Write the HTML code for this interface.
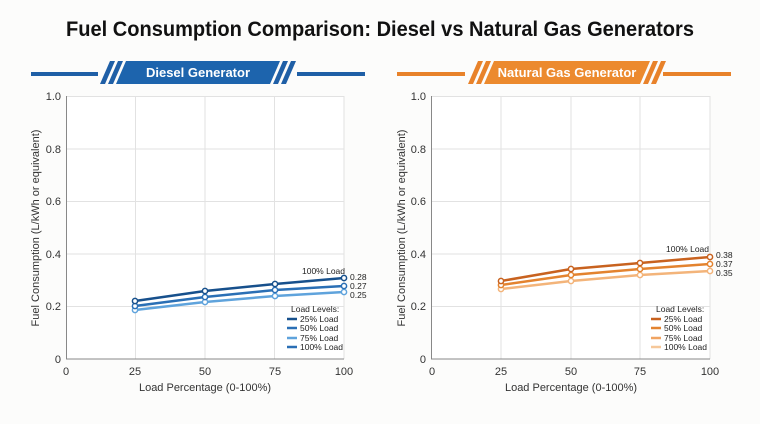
<!DOCTYPE html>
<html><head><meta charset="utf-8"><style>
html,body{margin:0;padding:0;background:#fcfcfb;}
svg{display:block;font-family:"Liberation Sans",sans-serif;}
</style></head><body>
<svg width="760" height="424" viewBox="0 0 760 424" xmlns="http://www.w3.org/2000/svg">
<rect width="760" height="424" fill="#fcfcfb"/>
<text x="380" y="36" text-anchor="middle" font-size="21" font-weight="bold" fill="#111" textLength="628" lengthAdjust="spacingAndGlyphs">Fuel Consumption Comparison: Diesel vs Natural Gas Generators</text>

<!-- Diesel banner -->
<g fill="#1f5fa6">
<rect x="31" y="72" width="67" height="4"/>
<rect x="297" y="72" width="68" height="4"/>
<polygon points="110,61 115,61 105,84 100,84"/>
<polygon points="118,61 123,61 113,84 108,84"/>
<polygon points="126,61 280,61 270,84 116,84" fill="#1d64ad"/>
<polygon points="283,61 288,61 278,84 273,84"/>
<polygon points="291,61 296,61 286,84 281,84"/>
</g>
<text x="198" y="77" text-anchor="middle" font-size="13" font-weight="bold" fill="#fff">Diesel Generator</text>

<!-- Gas banner -->
<g fill="#e8822a">
<rect x="397" y="72" width="68" height="4"/>
<rect x="663" y="72" width="68" height="4"/>
<polygon points="478,61 483,61 473,84 468,84"/>
<polygon points="486,61 491,61 481,84 476,84"/>
<polygon points="494,61 650,61 640,84 484,84" fill="#ec8a2e"/>
<polygon points="653,61 658,61 648,84 643,84"/>
<polygon points="661,61 666,61 656,84 651,84"/>
</g>
<text x="567" y="77" text-anchor="middle" font-size="13" font-weight="bold" fill="#fff">Natural Gas Generator</text>

<!-- Left plot -->
<g>
<rect x="66" y="96" width="278" height="263" fill="#fff"/>
<g stroke="#e2e2e2" stroke-width="1">
<line x1="66" y1="96.5" x2="344" y2="96.5"/><line x1="66" y1="149" x2="344" y2="149"/><line x1="66" y1="201.5" x2="344" y2="201.5"/><line x1="66" y1="254" x2="344" y2="254"/><line x1="66" y1="306.5" x2="344" y2="306.5"/>
<line x1="135.5" y1="96" x2="135.5" y2="359"/><line x1="205" y1="96" x2="205" y2="359"/><line x1="274.5" y1="96" x2="274.5" y2="359"/><line x1="344" y1="96" x2="344" y2="359"/>
</g>
<path d="M66.5 96V359H344" fill="none" stroke="#888" stroke-width="1"/>
<g font-size="11" fill="#333" text-anchor="end">
<text x="61" y="100">1.0</text><text x="61" y="153">0.8</text><text x="61" y="205">0.6</text><text x="61" y="258">0.4</text><text x="61" y="310">0.2</text><text x="61" y="363">0</text>
</g>
<g font-size="11" fill="#333" text-anchor="middle">
<text x="66" y="375">0</text><text x="135" y="375">25</text><text x="205" y="375">50</text><text x="275" y="375">75</text><text x="344" y="375">100</text>
</g>
<text x="205" y="391" text-anchor="middle" font-size="11" fill="#333">Load Percentage (0-100%)</text>
<text transform="translate(39,228) rotate(-90)" text-anchor="middle" font-size="11" fill="#333">Fuel Consumption (L/kWh or equivalent)</text>
<g fill="none" stroke-width="2.5">
<polyline points="135,310 205,302 275,296 344,292" stroke="#5fa3dc"/>
<polyline points="135,306 205,297 275,290 344,286" stroke="#2a6fb5"/>
<polyline points="135,301 205,291 275,284 344,278" stroke="#17508c"/>
</g>
<g fill="#fff" stroke-width="1.5">
<circle cx="135" cy="310" r="2.6" stroke="#5fa3dc"/><circle cx="205" cy="302" r="2.6" stroke="#5fa3dc"/><circle cx="275" cy="296" r="2.6" stroke="#5fa3dc"/><circle cx="344" cy="292" r="2.6" stroke="#5fa3dc"/>
<circle cx="135" cy="306" r="2.6" stroke="#2a6fb5"/><circle cx="205" cy="297" r="2.6" stroke="#2a6fb5"/><circle cx="275" cy="290" r="2.6" stroke="#2a6fb5"/><circle cx="344" cy="286" r="2.6" stroke="#2a6fb5"/>
<circle cx="135" cy="301" r="2.6" stroke="#17508c"/><circle cx="205" cy="291" r="2.6" stroke="#17508c"/><circle cx="275" cy="284" r="2.6" stroke="#17508c"/><circle cx="344" cy="278" r="2.6" stroke="#17508c"/>
</g>
<g font-size="8.5" fill="#222">
<text x="302" y="274">100% Load</text>
<text x="350" y="280">0.28</text><text x="350" y="289">0.27</text><text x="350" y="298">0.25</text>
<text x="291" y="312">Load Levels:</text>
<text x="300" y="322">25% Load</text><text x="300" y="331">50% Load</text><text x="300" y="341">75% Load</text><text x="300" y="350">100% Load</text>
</g>
<g stroke-width="2.5">
<line x1="287" y1="319" x2="297" y2="319" stroke="#17508c"/><line x1="287" y1="328" x2="297" y2="328" stroke="#2a6fb5"/><line x1="287" y1="338" x2="297" y2="338" stroke="#5fa3dc"/><line x1="287" y1="347" x2="297" y2="347" stroke="#2a6fb5"/>
</g>
</g>

<!-- Right plot -->
<g>
<rect x="431" y="96" width="279" height="263" fill="#fff"/>
<g stroke="#e2e2e2" stroke-width="1">
<line x1="431" y1="96.5" x2="710" y2="96.5"/><line x1="431" y1="149" x2="710" y2="149"/><line x1="431" y1="201.5" x2="710" y2="201.5"/><line x1="431" y1="254" x2="710" y2="254"/><line x1="431" y1="306.5" x2="710" y2="306.5"/>
<line x1="501" y1="96" x2="501" y2="359"/><line x1="571" y1="96" x2="571" y2="359"/><line x1="640" y1="96" x2="640" y2="359"/><line x1="710" y1="96" x2="710" y2="359"/>
</g>
<path d="M431.5 96V359H710" fill="none" stroke="#888" stroke-width="1"/>
<g font-size="11" fill="#333" text-anchor="end">
<text x="426" y="100">1.0</text><text x="426" y="153">0.8</text><text x="426" y="205">0.6</text><text x="426" y="258">0.4</text><text x="426" y="310">0.2</text><text x="426" y="363">0</text>
</g>
<g font-size="11" fill="#333" text-anchor="middle">
<text x="432" y="375">0</text><text x="501" y="375">25</text><text x="571" y="375">50</text><text x="640" y="375">75</text><text x="710" y="375">100</text>
</g>
<text x="571" y="391" text-anchor="middle" font-size="11" fill="#333">Load Percentage (0-100%)</text>
<text transform="translate(405,228) rotate(-90)" text-anchor="middle" font-size="11" fill="#333">Fuel Consumption (L/kWh or equivalent)</text>
<g fill="none" stroke-width="2.5">
<polyline points="501,289 571,281 640,275 710,271" stroke="#f3b47a"/>
<polyline points="501,285 571,275 640,269 710,264" stroke="#e3832f"/>
<polyline points="501,281 571,269 640,263 710,257" stroke="#c8621f"/>
</g>
<g fill="#fff" stroke-width="1.5">
<circle cx="501" cy="289" r="2.6" stroke="#f3b47a"/><circle cx="571" cy="281" r="2.6" stroke="#f3b47a"/><circle cx="640" cy="275" r="2.6" stroke="#f3b47a"/><circle cx="710" cy="271" r="2.6" stroke="#f3b47a"/>
<circle cx="501" cy="285" r="2.6" stroke="#e3832f"/><circle cx="571" cy="275" r="2.6" stroke="#e3832f"/><circle cx="640" cy="269" r="2.6" stroke="#e3832f"/><circle cx="710" cy="264" r="2.6" stroke="#e3832f"/>
<circle cx="501" cy="281" r="2.6" stroke="#c8621f"/><circle cx="571" cy="269" r="2.6" stroke="#c8621f"/><circle cx="640" cy="263" r="2.6" stroke="#c8621f"/><circle cx="710" cy="257" r="2.6" stroke="#c8621f"/>
</g>
<g font-size="8.5" fill="#222">
<text x="666" y="252">100% Load</text>
<text x="716" y="258">0.38</text><text x="716" y="267">0.37</text><text x="716" y="276">0.35</text>
<text x="656" y="312">Load Levels:</text>
<text x="664" y="322">25% Load</text><text x="664" y="331">50% Load</text><text x="664" y="341">75% Load</text><text x="664" y="350">100% Load</text>
</g>
<g stroke-width="2.5">
<line x1="651" y1="319" x2="661" y2="319" stroke="#c8621f"/><line x1="651" y1="328" x2="661" y2="328" stroke="#e3832f"/><line x1="651" y1="338" x2="661" y2="338" stroke="#f0a462"/><line x1="651" y1="347" x2="661" y2="347" stroke="#f6c89a"/>
</g>
</g>
</svg>
</body></html>
